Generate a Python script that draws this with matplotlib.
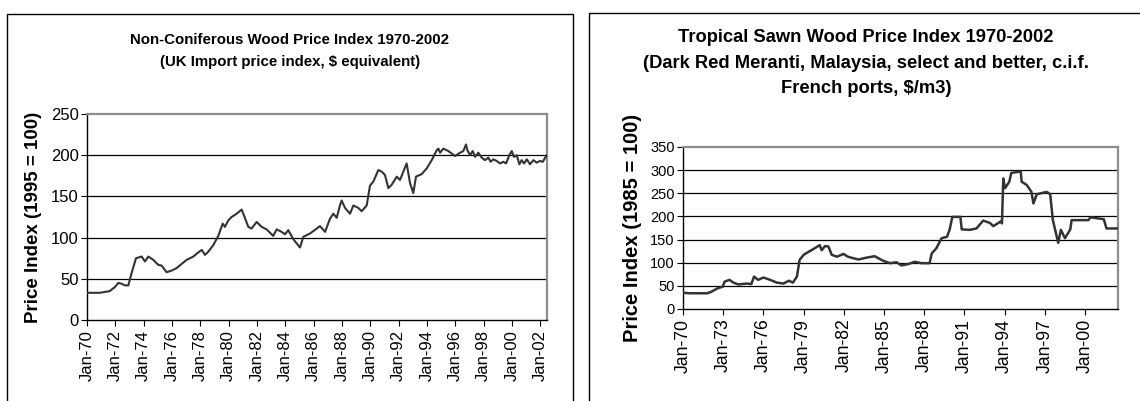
import matplotlib
matplotlib.use("Agg")
import matplotlib.pyplot as plt
from matplotlib.patches import Rectangle

plt.rcParams["font.family"] = ["Liberation Sans", "DejaVu Sans"]

# Non-coniferous wood, UK import price index (1995 = 100), decimal years
nc_year = [1970.0, 1970.9, 1971.6, 1971.97, 1972.21, 1972.44, 1972.68, 1972.92,
           1973.15, 1973.46, 1973.86, 1974.09, 1974.33, 1974.68, 1975.03, 1975.27,
           1975.62, 1975.98, 1976.33, 1976.68, 1977.04, 1977.51, 1977.86, 1978.1,
           1978.33, 1978.57, 1978.92, 1979.27, 1979.58, 1979.74, 1979.98, 1980.21,
           1980.57, 1980.92, 1981.08, 1981.39, 1981.62, 1981.98, 1982.33, 1982.68,
           1983.15, 1983.39, 1983.74, 1983.98, 1984.21, 1984.57, 1985.04, 1985.28,
           1985.75, 1986.22, 1986.45, 1986.81, 1987.16, 1987.39, 1987.63, 1987.86,
           1987.98, 1988.22, 1988.57, 1988.81, 1989.16, 1989.39, 1989.75, 1989.98,
           1990.22, 1990.57, 1990.81, 1991.04, 1991.28, 1991.51, 1991.87, 1992.1,
           1992.57, 1992.81, 1993.04, 1993.23, 1993.63, 1993.99, 1994.34, 1994.69,
           1994.81, 1994.93, 1995.16, 1995.52, 1995.75, 1995.99, 1996.34, 1996.57,
           1996.76, 1996.86, 1997.05, 1997.23, 1997.4, 1997.63, 1997.87, 1998.1,
           1998.34, 1998.5, 1998.69, 1998.93, 1999.16, 1999.4, 1999.59, 1999.82,
           1999.99, 2000.15, 2000.34, 2000.53, 2000.69, 2000.86, 2001.05, 2001.28,
           2001.52, 2001.75, 2001.99, 2002.18, 2002.46]
nc_index = [33, 33, 35, 40, 45, 44, 42, 42,
            57, 75, 77, 71, 77, 73, 67, 66,
            58, 60, 63, 68, 73, 77, 82, 85,
            79, 83, 91, 102, 117, 113, 121, 125,
            129, 134, 127, 113, 111, 119, 113, 110,
            102, 110, 107, 104, 109, 98, 88, 101,
            105, 111, 114, 107, 123, 129, 124, 139,
            145, 136, 129, 139, 136, 132, 139, 163,
            168, 182, 180, 176, 160, 164, 174, 170,
            190, 166, 154, 174, 177, 184, 194, 206,
            208, 203, 208, 205, 202, 199, 203, 205,
            213, 206, 200, 205, 198, 203, 197, 194,
            197, 192, 195, 193, 190, 192, 190, 200,
            205, 198, 200, 189, 194, 190, 195, 189,
            194, 191, 193, 192, 200]

# Dark red meranti sawn wood, c.i.f. French ports (1985 = 100)
tr_year = [1970.0, 1970.5, 1971.8, 1972.1, 1972.6, 1972.96, 1973.1, 1973.46,
           1973.76, 1974.13, 1974.75, 1975.1, 1975.3, 1975.6, 1976.0, 1976.5,
           1977.0, 1977.5, 1977.9, 1978.2, 1978.5, 1978.7, 1979.0, 1979.4,
           1979.7, 1980.2, 1980.35, 1980.6, 1980.85, 1981.1, 1981.5, 1981.97,
           1982.3, 1982.8, 1983.1, 1983.7, 1984.3, 1984.95, 1985.45, 1985.94,
           1986.3, 1986.8, 1987.3, 1987.8, 1988.4, 1988.56, 1988.9, 1989.3,
           1989.7, 1989.9, 1990.1, 1990.7, 1990.8, 1991.4, 1991.9, 1992.4,
           1992.9, 1993.16, 1993.7, 1993.8, 1993.9, 1994.03, 1994.35, 1994.5,
           1995.2, 1995.27, 1995.65, 1996.0, 1996.15, 1996.4, 1997.14, 1997.4,
           1997.6, 1998.0, 1998.2, 1998.5, 1998.9, 1999.0, 2000.25, 2000.4,
           2001.4, 2001.6, 2002.46]
tr_index = [35, 34, 34, 37, 45, 48, 59, 63,
            57, 53, 55, 54, 70, 63, 68, 63,
            57, 55, 61, 57, 70, 106, 117, 124,
            129, 138, 127, 136, 135, 117, 113, 119,
            113, 109, 107, 111, 114, 104, 99, 101,
            94, 97, 102, 99, 99, 120, 131, 153,
            156, 172, 199, 199, 172, 171, 174, 191,
            186, 179, 189, 185, 282, 261, 275, 294,
            297, 275, 268, 253, 228, 248, 253, 248,
            192, 143, 171, 153, 172, 192, 192, 198,
            194, 174, 174]

nc_ticks = list(range(1970, 2003, 2))
tr_ticks = list(range(1970, 2001, 3))

W, H = 1140, 401
fig = plt.figure(figsize=(W / 100, H / 100), dpi=100)

# panel frames
fig.add_artist(Rectangle((7 / W, -0.1), 566 / W, 1.1 - 14 / H, transform=fig.transFigure,
                         fill=False, ec="black", lw=1.0))
fig.add_artist(Rectangle((589 / W, -0.1), 0.6, 1.1 - 13 / H, transform=fig.transFigure,
                         fill=False, ec="black", lw=1.0))


def style(ax, ymax, ystep, ticks, xmax, ysize, xsize):
    ax.set_xlim(1970, xmax)
    ax.set_ylim(0, ymax)
    ax.set_yticks(range(0, ymax + 1, ystep))
    ax.set_xticks(ticks)
    ax.set_xticklabels([f"Jan-{t % 100:02d}" for t in ticks], rotation=90)
    for y in range(ystep, ymax, ystep):
        ax.axhline(y, color="black", lw=0.9, zorder=1)
    for s in ("top", "right"):
        ax.spines[s].set_color("#8c8c8c")
        ax.spines[s].set_linewidth(1.6)
    for s in ("left", "bottom"):
        ax.spines[s].set_color("black")
        ax.spines[s].set_linewidth(1.0)
    ax.tick_params(axis="y", direction="out", length=4, labelsize=ysize, pad=2)
    ax.tick_params(axis="x", direction="out", length=4, labelsize=xsize, pad=3)


ax1 = fig.add_axes([87 / W, 1 - 320 / H, 460 / W, 206 / H])
ax1.plot(nc_year, nc_index, color="#333333", lw=1.5, zorder=3)
style(ax1, 250, 50, nc_ticks, 2002.48, 12, 12)
ax1.set_ylabel("Price Index (1995 = 100)", fontsize=13.5, fontweight="bold", labelpad=6)
fig.text(290 / W, 1 - 51 / H, "Non-Coniferous Wood Price Index 1970-2002\n(UK Import price index, $ equivalent)",
         ha="center", va="center", fontsize=10.8, fontweight="bold", linespacing=1.75)

ax2 = fig.add_axes([683 / W, 1 - 309 / H, 435 / W, 162 / H])
ax2.plot(tr_year, tr_index, color="#333333", lw=1.8, zorder=3)
style(ax2, 350, 50, tr_ticks, 2002.46, 10.5, 12.7)
ax2.set_ylabel("Price Index (1985 = 100)", fontsize=14.5, fontweight="bold", labelpad=6)
fig.text(866 / W, 1 - 63 / H,
         "Tropical Sawn Wood Price Index 1970-2002\n(Dark Red Meranti, Malaysia, select and better, c.i.f.\nFrench ports, $/m3)",
         ha="center", va="center", fontsize=13.2, fontweight="bold", linespacing=1.65)

fig.savefig("out.png", dpi=100)
